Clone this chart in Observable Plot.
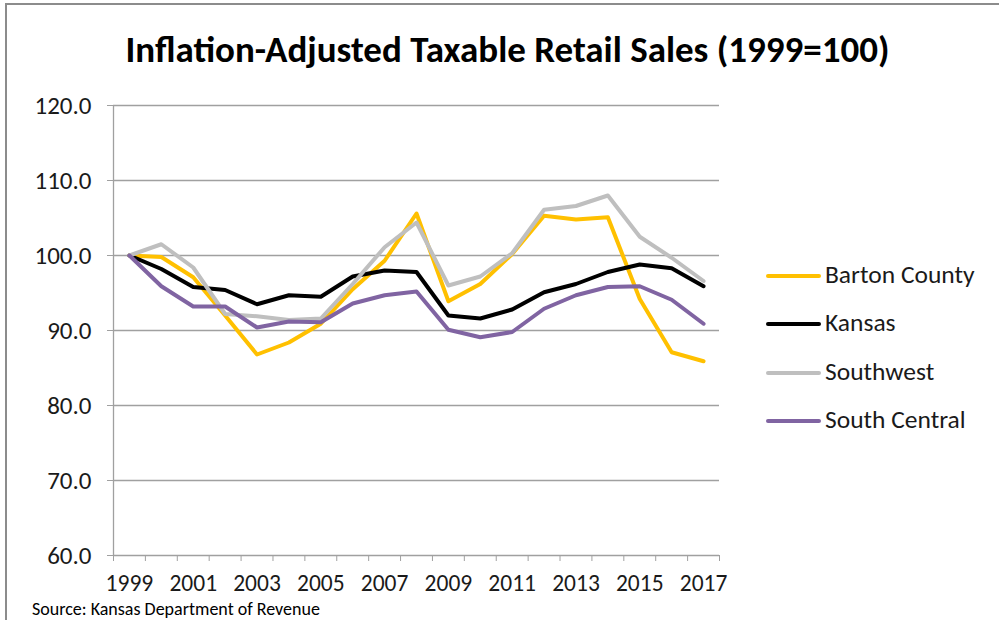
<!DOCTYPE html>
<html>
<head>
<meta charset="utf-8">
<script src="https://cdn.jsdelivr.net/npm/d3@7"></script>
<script src="https://cdn.jsdelivr.net/npm/@observablehq/plot@0.6"></script>
<style>
  html, body { margin: 0; padding: 0; background: #fff; }
  #wrap { position: relative; width: 999px; height: 620px; overflow: hidden; font-family: Carlito, Lato, sans-serif; }
  #frame { position: absolute; left: 5px; top: 3px; width: 1200px; height: 800px; border-top: 2px solid #8c8c8c; border-left: 2px solid #8c8c8c; }
  #chart { position: absolute; left: 0; top: 0; }
  #title { position: absolute; left: 0; top: 28px; width: 1015px; text-align: center; font-weight: bold; font-size: 37px; line-height: 44px; color: #000; white-space: nowrap; }
  #legend { position: absolute; left: 766px; top: 259px; }
  .item { height: 48.4px; display: flex; align-items: flex-start; font-size: 25.5px; line-height: 32px; color: #1a1a1a; white-space: nowrap; }
  .sw { width: 55px; height: 4px; margin-top: 15px; margin-right: 4px; border-radius: 2px; }
  #source { position: absolute; left: 32px; top: 600px; font-size: 18px; line-height: 18px; color: #000; white-space: nowrap; }
</style>
</head>
<body>
<div id="wrap">
  <div id="frame"></div>
  <div id="chart"></div>
  <div id="title"></div>
  <div id="legend"></div>
  <div id="source"></div>
</div>
<script>
const titleText = "Inflation-Adjusted Taxable Retail Sales (1999=100)";
const sourceText = "Source: Kansas Department of Revenue";

const years = [1999, 2000, 2001, 2002, 2003, 2004, 2005, 2006, 2007, 2008, 2009, 2010, 2011, 2012, 2013, 2014, 2015, 2016, 2017];
const seriesNames = ["Barton County", "Kansas", "Southwest", "South Central"];
const seriesColors = ["#FFC000", "#000000", "#BFBFBF", "#8064A2"];

const bartonCounty = [100.0, 99.8, 97.1, 92.0, 86.8, 88.4, 90.9, 95.5, 99.3, 105.6, 93.9, 96.2, 100.2, 105.3, 104.8, 105.1, 94.2, 87.1, 85.9];
const kansas       = [100.0, 98.2, 95.8, 95.4, 93.5, 94.7, 94.5, 97.2, 98.0, 97.8, 92.0, 91.6, 92.8, 95.1, 96.2, 97.8, 98.8, 98.3, 95.9];
const southwest    = [100.0, 101.5, 98.4, 92.2, 91.9, 91.4, 91.6, 96.2, 101.1, 104.4, 96.0, 97.2, 100.3, 106.1, 106.6, 108.0, 102.5, 99.7, 96.6];
const southCentral = [100.0, 95.9, 93.2, 93.2, 90.4, 91.2, 91.1, 93.6, 94.7, 95.2, 90.1, 89.1, 89.8, 92.9, 94.7, 95.8, 95.9, 94.1, 90.9];

const yTicks = [60, 70, 80, 90, 100, 110, 120];
const xLabelYears = [1999, 2001, 2003, 2005, 2007, 2009, 2011, 2013, 2015, 2017];

const seriesValues = [bartonCounty, kansas, southwest, southCentral];
const data = [];
seriesNames.forEach((name, i) => {
  years.forEach((yr, j) => data.push({series: name, year: yr, value: seriesValues[i][j]}));
});
const boundaries = years.map(y => y - 0.5).concat([years[years.length - 1] + 0.5]);

const fontFam = 'Carlito, Lato, sans-serif';
const grid = "#a0a0a0";

const chart = Plot.plot({
  width: 999,
  height: 620,
  marginLeft: 113,
  marginRight: 280,
  marginTop: 105,
  marginBottom: 65,
  style: {fontFamily: fontFam, background: "transparent", color: "#000"},
  x: {domain: [years[0] - 0.5, years[years.length - 1] + 0.5]},
  y: {domain: [yTicks[0], yTicks[yTicks.length - 1]]},
  color: {domain: seriesNames, range: seriesColors},
  marks: [
    Plot.gridY(yTicks.slice(1), {stroke: grid, strokeOpacity: 1, strokeWidth: 1.3}),
    Plot.ruleX([years[0] - 0.5], {stroke: grid, strokeWidth: 1.3}),
    Plot.ruleY([yTicks[0]], {stroke: grid, strokeWidth: 1.3}),
    Plot.axisY(yTicks, {label: null, tickSize: 6, tickPadding: 16, stroke: grid, strokeOpacity: 1, fontSize: 25, tickFormat: d => d.toFixed(1), fill: "#1a1a1a"}),
    Plot.axisX(boundaries, {label: null, tickSize: 6, stroke: grid, strokeOpacity: 1, tickFormat: () => ""}),
    Plot.axisX(xLabelYears, {label: null, tickSize: 0, tickPadding: 19, fontSize: 23.5, tickFormat: d => String(d), fill: "#1a1a1a"}),
    Plot.line(data, {x: "year", y: "value", z: "series", stroke: "series", strokeWidth: 4, strokeLinejoin: "round", strokeLinecap: "round"})
  ]
});
document.getElementById("chart").appendChild(chart);

document.getElementById("title").textContent = titleText;
document.getElementById("source").textContent = sourceText;
const legend = document.getElementById("legend");
seriesNames.forEach((name, i) => {
  const it = document.createElement("div");
  it.className = "item";
  const sw = document.createElement("div");
  sw.className = "sw";
  sw.style.background = seriesColors[i];
  const tx = document.createElement("span");
  tx.textContent = name;
  it.appendChild(sw);
  it.appendChild(tx);
  legend.appendChild(it);
});
</script>
</body>
</html>
